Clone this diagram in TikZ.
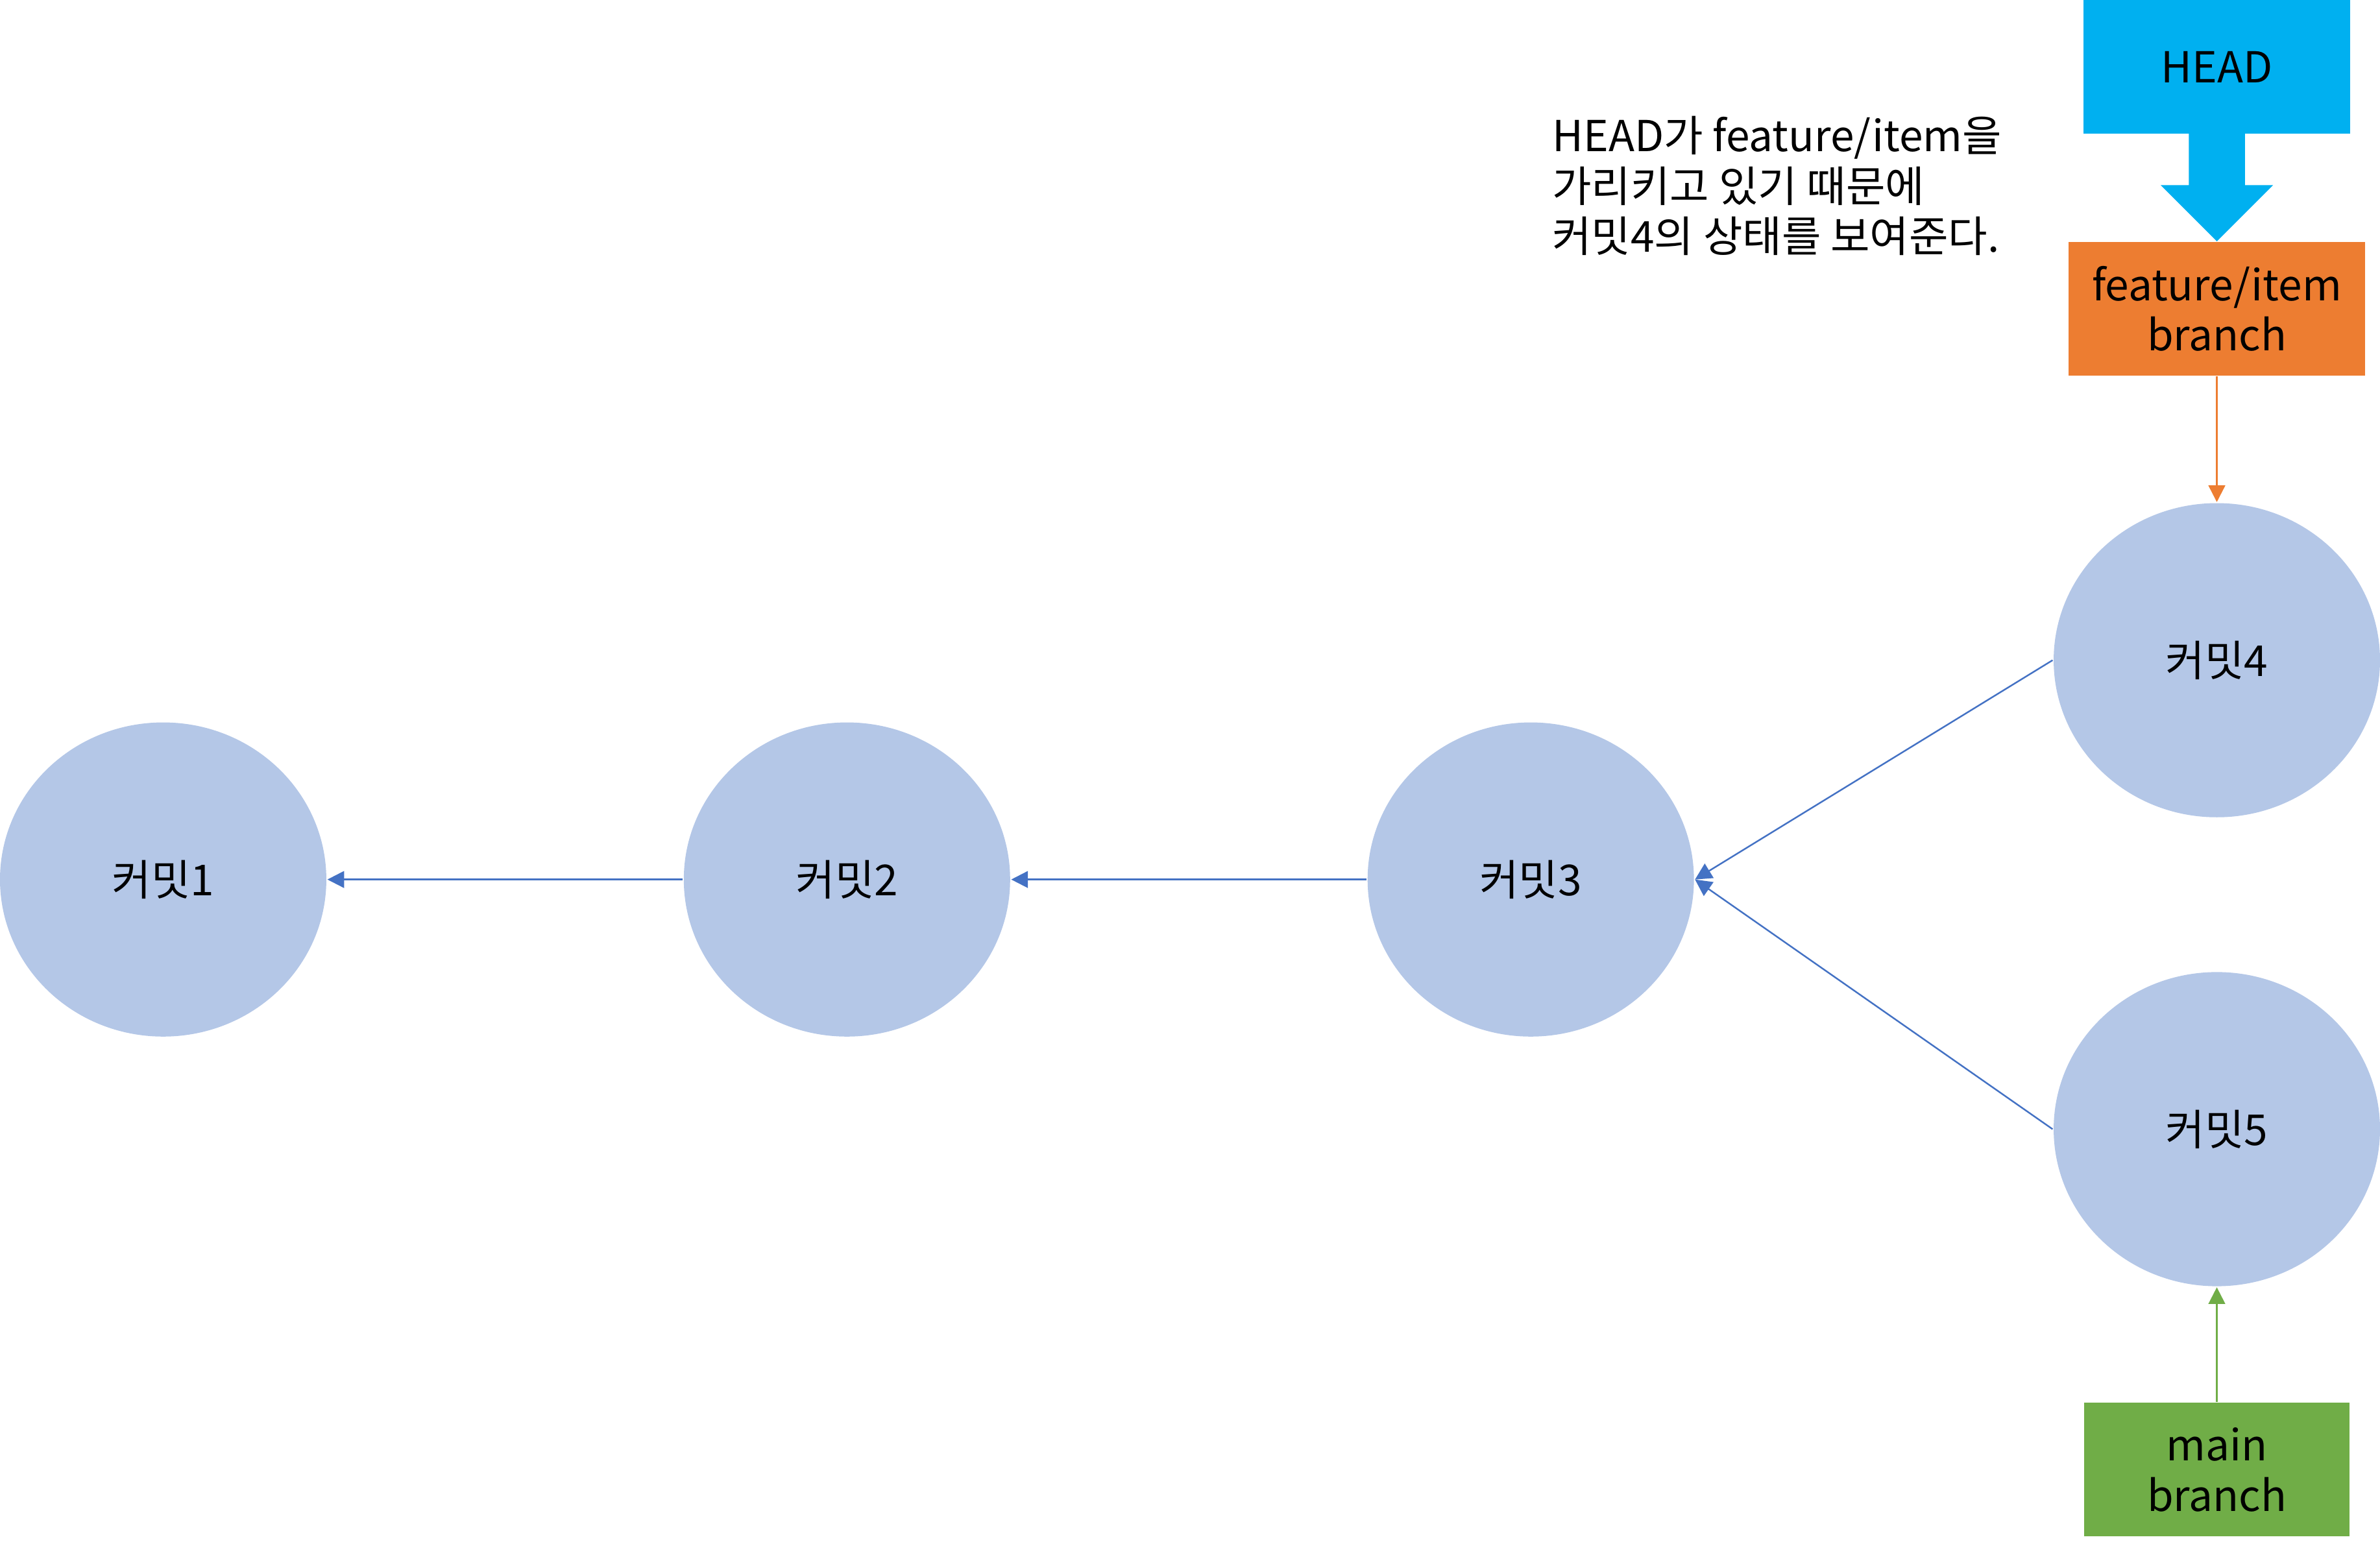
\documentclass[tikz,border=0pt]{standalone}
\usepackage{fontspec}
\setmainfont{Noto Sans CJK KR}
\usetikzlibrary{shapes.geometric,arrows.meta}
\definecolor{commitblue}{HTML}{B4C7E7}
\definecolor{linkblue}{HTML}{4472C4}
\definecolor{headcyan}{HTML}{00B0F0}
\definecolor{featorange}{HTML}{ED7D31}
\definecolor{maingreen}{HTML}{70AD47}

\begin{document}
\begin{tikzpicture}[x=0.1mm,y=-0.1mm,
    font=\fontsize{8pt}{9.4pt}\selectfont,
    commit/.style={ellipse,fill=commitblue,minimum width=2.15cm,minimum height=2.07cm,inner sep=0pt},
    branchbox/.style={rectangle,minimum height=0.88cm,inner sep=0pt,align=center},
    link/.style={-{Triangle[length=1.1mm,width=1.1mm]},line width=0.3pt}]
    \useasboundingbox (0,0) rectangle (1568,1018.3);
    \node[commit] (c1) at (107.5,579.5) {커밋1};
    \node[commit] (c2) at (558,579.5) {커밋2};
    \node[commit] (c3) at (1008.5,579.5) {커밋3};
    \node[commit] (c4) at (1460.5,435) {커밋4};
    \node[commit] (c5) at (1460.5,744) {커밋5};
    \node[branchbox,fill=headcyan,minimum width=1.755cm] (head) at (1460.5,44) {HEAD};
    \node[branchbox,fill=featorange,minimum width=1.955cm] (feat) at (1460.5,203.4) {feature/item\\branch};
    \node[branchbox,fill=maingreen,minimum width=1.75cm] (main) at (1460.5,968.4) {main\\branch};
    \node[anchor=north west,align=left,inner sep=0pt] (note) at (1022,76) {HEAD가 feature/item을\\가리키고 있기 때문에\\커밋4의 상태를 보여준다.};
    \fill[headcyan] (1442,88) -- (1479,88) -- (1479,122) -- (1497.5,122) -- (1460.5,159) -- (1423.5,122) -- (1442,122) -- cycle;
    \draw[link,linkblue] (c2.west) -- (c1.east);
    \draw[link,linkblue] (c3.west) -- (c2.east);
    \draw[link,linkblue] (c4.west) -- (c3.east);
    \draw[link,linkblue] (c5.west) -- (c3.east);
    \draw[link,featorange] (feat.south) -- (c4.north);
    \draw[link,maingreen] (main.north) -- (c5.south);
\end{tikzpicture}
\end{document}
